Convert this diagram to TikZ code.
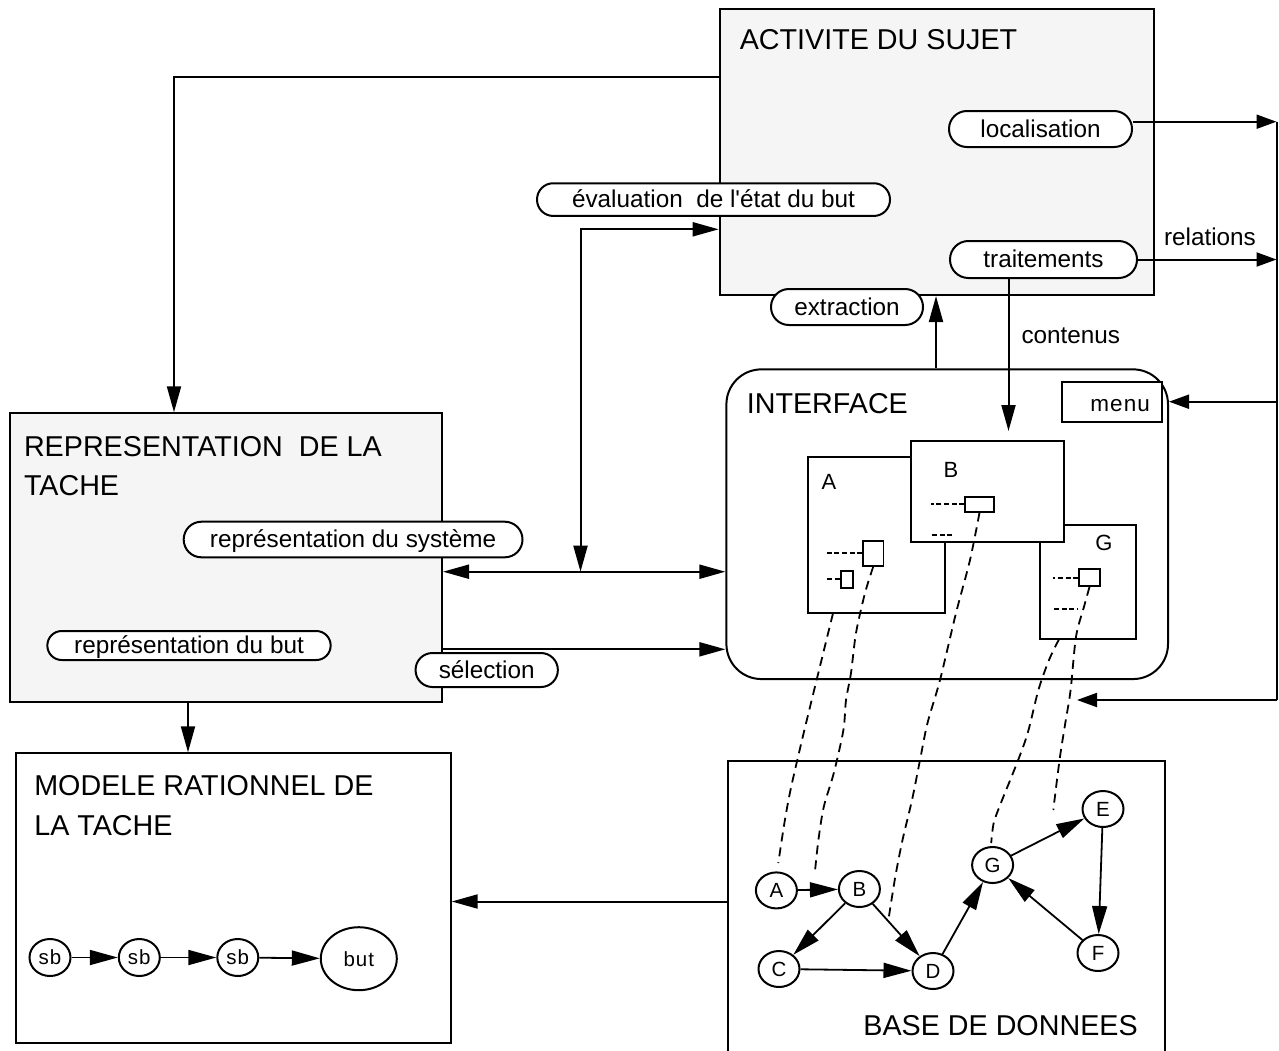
\documentclass[tikz,border=0pt]{standalone}
\usepackage{fontspec}
\setmainfont{Liberation Sans}[Ligatures=TeXOff]
\newfontfamily\spacedfont{Liberation Sans}[LetterSpace=5,Ligatures=TeXOff]
\usetikzlibrary{arrows.meta,shapes.geometric}
\definecolor{panegray}{HTML}{F5F5F5}

\newcommand\titlesize{\fontsize{28.7pt}{34pt}\selectfont}
\newcommand\labelsize{\fontsize{24.3pt}{29pt}\selectfont}
\newcommand\lettersize{\fontsize{20.5pt}{24pt}\selectfont}

\begin{document}
\begin{tikzpicture}[x=1pt, y=-1pt, line width=2pt,
  >={Triangle[length=26pt,width=14pt]},
  shorttip/.style={>={Triangle[length=20pt,width=14pt]}},
  graphtip/.style={line width=1.8pt, >={Triangle[length=28pt,width=15pt]}},
  panel/.style={draw, inner sep=0pt, fill=white},
  greypanel/.style={panel, fill=panegray},
  fieldbox/.style={panel, line width=1.8pt},
  pill/.style={draw, fill=white, inner sep=0pt, font=\labelsize, text height=16pt, text depth=0pt},
  title/.style={inner sep=0pt, anchor=base west, font=\titlesize},
  caption/.style={inner sep=0pt, anchor=base west, font=\labelsize},
  graphnode/.style={draw, fill=white, ellipse, inner sep=0pt, minimum width=41pt, minimum height=36pt, font=\lettersize},
  stepnode/.style={graphnode, minimum height=37pt, font=\spacedfont\lettersize},
  winletter/.style={inner sep=0pt, font=\fontsize{22pt}{26pt}\selectfont},
  link/.style={dash pattern=on 9pt off 6pt, line width=1.8pt},
  stub/.style={dash pattern=on 5pt off 2.6pt, line width=1.8pt},
]
\useasboundingbox (0,0) rectangle (1279,1050);

% main blocks
\node[greypanel, minimum width=434.6pt, minimum height=285.7pt] (act) at (937,152.2) {};
\node[greypanel, minimum width=432pt, minimum height=288.4pt] (rep) at (226,557.5) {};
\node[panel, minimum width=435pt, minimum height=290pt] (mod) at (233.2,898.3) {};
\node[panel, rounded corners=35pt, minimum width=441.6pt, minimum height=309.7pt] (intf) at (947.2,524.2) {};
\node[panel, minimum width=436.8pt, minimum height=329pt] (db) at (946.3,925.5) {};

% block titles
\node[title] (actT) at (738.8,49.3) {ACTIVITE DU SUJET};
\node[title] (repT1) at (23,456) {REPRESENTATION~~DE LA};
\node[title] (repT2) at (23,495.7) {TACHE};
\node[title] (modT1) at (33.3,795.7) {MODELE RATIONNEL DE};
\node[title] (modT2) at (33.3,835.7) {LA TACHE};
\node[title] (intfT) at (745.8,413) {INTERFACE};
\node[title] (dbT) at (862.4,1035) {BASE DE DONNEES};

% interface content
\node[panel, minimum width=100pt, minimum height=40pt] (menu) at (1111.8,401.7) {};
\node[inner sep=0pt, anchor=base east, font=\spacedfont\fontsize{22.5pt}{26pt}\selectfont] (menuT) at (1151,411.7) {menu};
\node[panel, minimum width=96.5pt, minimum height=114.3pt] (winG) at (1087.75,582.15) {};
\node[panel, minimum width=137pt, minimum height=156pt] (winA) at (876.9,535.3) {};
\node[panel, minimum width=153pt, minimum height=100.7pt] (winB) at (987.5,491.35) {};
\node[winletter] (wA) at (829,482) {A};
\node[winletter] (wB) at (951,469.5) {B};
\node[winletter] (wG) at (1104,542.5) {G};
\node[fieldbox, minimum width=20.5pt, minimum height=24.7pt] (fA1) at (873.25,553.35) {};
\node[fieldbox, minimum width=12.4pt, minimum height=16.7pt] (fA2) at (846.8,579.35) {};
\node[fieldbox, minimum width=29pt, minimum height=14.7pt] (fB1) at (979.5,504.35) {};
\node[fieldbox, minimum width=21pt, minimum height=16.7pt] (fG1) at (1089.5,577.65) {};
\draw[stub] (fA1.west) -- ++(-37,0);
\draw[stub] (fA2.west) -- ++(-14.6,0);
\draw[stub] (fB1.west) -- ++(-33,0);
\draw[stub] (fG1.west) -- ++(-25,0);
\coordinate (bLine) at (932,535);
\draw[stub] (bLine) -- ++(22,0);
\coordinate (gLine) at (1054,609.3);
\draw[stub] (gLine) -- ++(23,0);

% activity labels
\node[pill, rounded corners=17.9pt, minimum width=183pt, minimum height=36pt] (loc) at (1040.5,129) {localisation\hspace{12pt}};
\node[pill, rounded corners=16.2pt, minimum width=353pt, minimum height=32.7pt] (eval) at (713.5,199.6) {évaluation~~de l'état du but\hspace{28pt}};
\node[pill, rounded corners=18.4pt, minimum width=187pt, minimum height=37pt] (trait) at (1043.5,259.5) {traitements\hspace{13pt}};
\node[pill, rounded corners=17.9pt, minimum width=152pt, minimum height=36pt] (extr) at (847,307) {extraction\hspace{14pt}};
\node[pill, rounded corners=17.7pt, minimum width=338.8pt, minimum height=35.6pt] (repsys) at (353.1,539.5) {représentation du système\hspace{10pt}};
\node[pill, rounded corners=14.4pt, minimum width=283.3pt, minimum height=29pt] (repbut) at (189,645.5) {représentation du but\hspace{6pt}};
\node[pill, rounded corners=16.9pt, minimum width=142.3pt, minimum height=34pt] (sel) at (486.7,670) {sélection};
\node[caption] (relT) at (1163,245) {relations};
\node[caption] (contT) at (1020.5,343.3) {contenus};

% connectors between blocks
\coordinate (k1) at (174,77.3);
\draw[->] (act.west |- k1) -| (rep.north -| k1);
\coordinate (J) at (580.5,571.7);
\coordinate (E1) at (580.5,229.3);
\draw[<->] (J) -- (E1) -- (act.west |- E1);
\draw[<->] (rep.east |- J) -- (intf.west |- J);
\coordinate (S) at (0,649.3);
\draw[->] (rep.east |- S) -- (intf.west |- S);
\coordinate (X1) at (188,0);
\draw[->] (rep.south -| X1) -- (mod.north -| X1);
\coordinate (Y1) at (0,901.5);
\draw[->] (db.west |- Y1) -- (mod.east |- Y1);
\coordinate (X2) at (936,0);
\draw[->] (intf.north -| X2) -- (act.south -| X2);
\coordinate (X3) at (1008.5,0);
\draw[->, shorten >=9pt] (trait.south -| X3) -- (winB.north -| X3);

% right-hand return bus
\coordinate (R1) at (1276.5,121.7);
\coordinate (R4) at (1276.5,700);
\coordinate (B1) at (1077,700);
\draw (R1) -- (R4);
\draw[shorttip,->] (loc.east |- R1) -- (R1);
\draw[shorttip,->] (trait.east) -- (trait.east -| R1);
\draw[shorttip,->] (menu.east -| R1) -- (intf.east |- menu.east);
\draw[shorttip,->] (R4) -- (B1);

% links from windows to database items
\coordinate (lA) at (833,613.3);
\coordinate (lG) at (1059,639.3);
\draw[link] plot[smooth] coordinates {(lA) (816.6,680) (802,740) (790.5,790) (784.4,823) (778.3,863)};
\draw[link] plot[smooth] coordinates {(fA1.south) (865,593) (856,633) (851,673) (846,700) (843.4,730) (833.8,773) (823.8,806.7) (818.4,840) (814.8,873)};
\draw[link] plot[smooth] coordinates {(fB1.south) (970,560) (956,613) (940,680) (927.5,723) (920,760) (912,800) (902.5,840) (895.3,876.7) (888.9,916.7)};
\draw[link] plot[smooth] coordinates {(lG) (1049,660) (1038.4,690) (1027.7,733) (1017,763) (1000.9,803) (993.7,823) (991.2,843)};
\draw[link] plot[smooth] coordinates {(fG1.south) (1084,606.7) (1076,636.7) (1070.6,690) (1065.3,723) (1060,756.7) (1054.5,800) (1053.4,810)};

% database graph
\node[graphnode] (nA) at (776.4,890.4) {A};
\node[graphnode] (nB) at (859.4,889) {B};
\node[graphnode] (nC) at (779,969) {C};
\node[graphnode] (nD) at (933,971) {D};
\node[graphnode] (nG) at (992.6,865) {G};
\node[graphnode] (nE) at (1103,809) {E};
\node[graphnode] (nF) at (1098,953) {F};
\draw[graphtip,->] (nA) -- (nB);
\draw[graphtip,->] (nB) -- (nC);
\draw[graphtip,->] (nB) -- (nD);
\draw[graphtip,->] (nC) -- (nD);
\draw[graphtip,->] (nD) -- (nG);
\draw[graphtip,->] (nG) -- (nE);
\draw[graphtip,->] (nE) -- (nF);
\draw[graphtip,->] (nF) -- (nG);

% rational task model
\node[stepnode] (sb1) at (50,957.5) {sb};
\node[stepnode] (sb2) at (139.3,957.5) {sb};
\node[stepnode] (sb3) at (237.8,957.5) {sb};
\node[graphnode, minimum width=76pt, minimum height=63pt, font=\spacedfont\lettersize] (goal) at (358.8,958.7) {but};
\draw[graphtip,->] (sb1) -- (sb2);
\draw[graphtip,->] (sb2) -- (sb3);
\draw[graphtip,->] (sb3) -- (goal);
\end{tikzpicture}
\end{document}
